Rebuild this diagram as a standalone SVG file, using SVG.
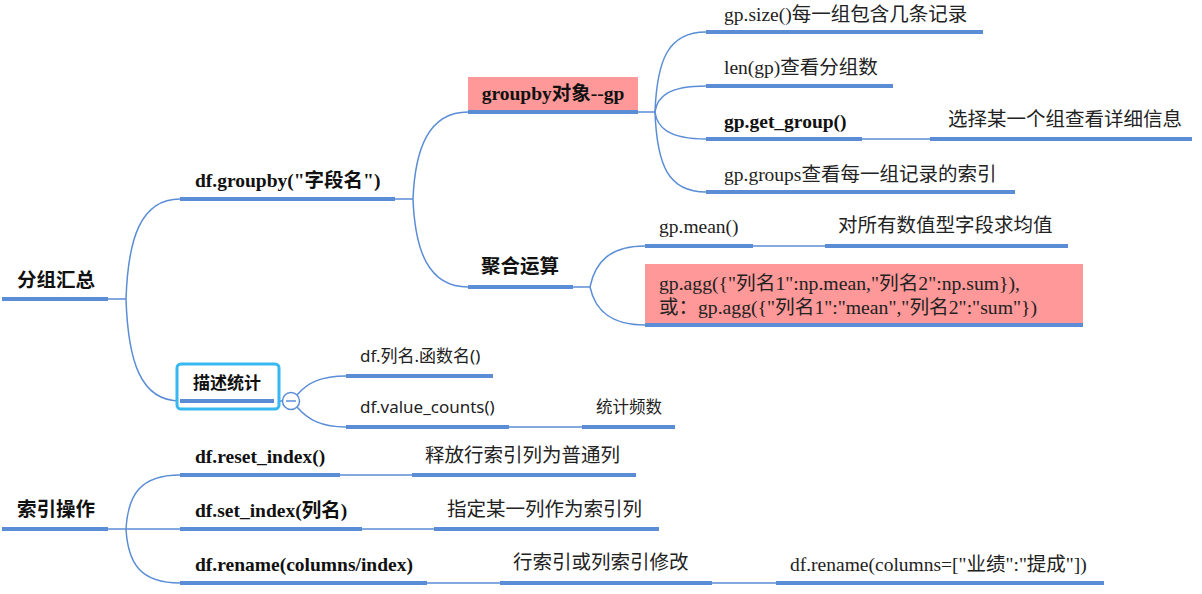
<svg xmlns="http://www.w3.org/2000/svg" width="1202" height="594" viewBox="0 0 1202 594">
<style>
.ul{stroke:#5a8dd6;stroke-width:4;fill:none}
.ln{stroke:#5a8dd6;stroke-width:1.5;fill:none}
.sf{font-family:"Liberation Serif","Noto Sans CJK SC",serif;font-size:19.5px;fill:#222}
.sfb{font-family:"Liberation Serif","Noto Sans CJK SC",serif;font-size:19.5px;font-weight:bold;fill:#111}
.ss{font-family:"Noto Sans","Noto Sans CJK SC",sans-serif;font-size:17px;fill:#222}
.root{font-family:"Noto Sans CJK SC",sans-serif;font-size:19.5px;font-weight:bold;fill:#111}
.pink{fill:#ff9898}
</style>
<rect width="1202" height="594" fill="#ffffff"/>
<g id="connectors">
<path class="ln" d="M108 299 H126"/>
<path class="ln" d="M126 299 C128 240 140 199 180 199"/>
<path class="ln" d="M126 299 C128 360 140 401 180 401"/>
<path class="ln" d="M395 199 H413"/>
<path class="ln" d="M413 199 C415 150 428 112 468 112"/>
<path class="ln" d="M413 199 C415 250 428 287 468 287"/>
<path class="ln" d="M638 112 H655"/>
<path class="ln" d="M655 112 C657 60 668 32 706 32"/>
<path class="ln" d="M655 112 C657 97 668 86 706 86"/>
<path class="ln" d="M655 112 C657 127 668 139 706 139"/>
<path class="ln" d="M655 112 C657 165 668 192 706 192"/>
<path class="ln" d="M862 139 H930"/>
<path class="ln" d="M573 287 H590"/>
<path class="ln" d="M590 287 C595 262 610 246 645 246"/>
<path class="ln" d="M590 287 C595 310 610 325 645 325"/>
<path class="ln" d="M753 246 H825"/>
<path class="ln" d="M274 401 H283"/>
<path class="ln" d="M297 395 C308 382 322 376 346 376"/>
<path class="ln" d="M297 407 C308 420 322 427 346 427"/>
<path class="ln" d="M509 427 H582"/>
<path class="ln" d="M108 529 H126"/>
<path class="ln" d="M126 529 C128 495 140 475 180 475"/>
<path class="ln" d="M126 529 H180"/>
<path class="ln" d="M126 529 C128 563 140 583 180 583"/>
<path class="ln" d="M340 475 H412"/>
<path class="ln" d="M362 529 H434"/>
<path class="ln" d="M427 583 H500"/>
<path class="ln" d="M712 583 H776"/>
</g>
<g id="n-fenzu">
<path class="ul" d="M2 299 H108"/>
<text class="root" x="17" y="287">分组汇总</text>
</g>
<g id="n-groupby">
<path class="ul" d="M180 199 H395"/>
<text class="sfb" x="195" y="187">df.groupby("字段名")</text>
</g>
<g id="n-gpobj">
<rect class="pink" x="468" y="77" width="170" height="34"/>
<path class="ul" d="M468 112 H638"/>
<text class="sfb" x="553" y="100" text-anchor="middle">groupby对象--gp</text>
</g>
<g id="n-size">
<path class="ul" d="M706 32 H983"/>
<text class="sf" x="724" y="21">gp.size()每一组包含几条记录</text>
</g>
<g id="n-len">
<path class="ul" d="M706 86 H893"/>
<text class="sf" x="724" y="74">len(gp)查看分组数</text>
</g>
<g id="n-getgroup">
<path class="ul" d="M706 139 H862"/>
<text class="sfb" x="724" y="128">gp.get_group()</text>
</g>
<g id="n-getgroup-desc">
<path class="ul" d="M930 139 H1192"/>
<text class="sf" x="948" y="126">选择某一个组查看详细信息</text>
</g>
<g id="n-groups">
<path class="ul" d="M706 192 H1015"/>
<text class="sf" x="724" y="181">gp.groups查看每一组记录的索引</text>
</g>
<g id="n-agg">
<path class="ul" d="M468 287 H573"/>
<text class="root" x="481" y="273">聚合运算</text>
</g>
<g id="n-mean">
<path class="ul" d="M645 246 H753"/>
<text class="sf" x="659" y="233">gp.mean()</text>
</g>
<g id="n-mean-desc">
<path class="ul" d="M825 246 H1068"/>
<text class="sf" x="838" y="232">对所有数值型字段求均值</text>
</g>
<g id="n-aggfunc">
<rect class="pink" x="645" y="264" width="438" height="59"/>
<path class="ul" d="M645 325 H1083"/>
<text class="sf" x="659" y="290" textLength="361" lengthAdjust="spacingAndGlyphs">gp.agg({"列名1":np.mean,"列名2":np.sum}),</text>
<text class="sf" x="659" y="314">或：</text>
<text class="sf" x="698" y="314" textLength="339" lengthAdjust="spacingAndGlyphs">gp.agg({"列名1":"mean","列名2":"sum"})</text>
</g>
<g id="n-describe">
<rect x="177" y="364" width="102" height="45" rx="4" fill="#fff" stroke="#37b8f2" stroke-width="3"/>
<path class="ul" d="M180 401 H274"/>
<text class="root" x="193" y="389" style="font-size:17px">描述统计</text>
<circle cx="291" cy="401" r="8.5" fill="#fff" stroke="#5a8dd6" stroke-width="1.5"/>
<path d="M286 401 H296" stroke="#5a8dd6" stroke-width="1.5"/>
</g>
<g id="n-colfunc">
<path class="ul" d="M346 376 H493"/>
<text class="ss" x="360" y="362">df.列名.函数名()</text>
</g>
<g id="n-valuecounts">
<path class="ul" d="M346 427 H509"/>
<text class="ss" x="360" y="413">df.value_counts()</text>
</g>
<g id="n-freq">
<path class="ul" d="M582 427 H675"/>
<text class="ss" x="596" y="413" style="font-size:16.5px">统计频数</text>
</g>
<g id="n-index">
<path class="ul" d="M2 529 H108"/>
<text class="root" x="17" y="516">索引操作</text>
</g>
<g id="n-reset">
<path class="ul" d="M180 475 H340"/>
<text class="sfb" x="195" y="463">df.reset_index()</text>
</g>
<g id="n-reset-desc">
<path class="ul" d="M412 475 H636"/>
<text class="sf" x="425" y="462">释放行索引列为普通列</text>
</g>
<g id="n-setindex">
<path class="ul" d="M180 529 H362"/>
<text class="sfb" x="195" y="517">df.set_index(列名)</text>
</g>
<g id="n-setindex-desc">
<path class="ul" d="M434 529 H659"/>
<text class="sf" x="447" y="516">指定某一列作为索引列</text>
</g>
<g id="n-rename">
<path class="ul" d="M180 583 H427"/>
<text class="sfb" x="195" y="571">df.rename(columns/index)</text>
</g>
<g id="n-rename-desc">
<path class="ul" d="M500 583 H712"/>
<text class="sf" x="513" y="569">行索引或列索引修改</text>
</g>
<g id="n-rename-ex">
<path class="ul" d="M776 583 H1104"/>
<text class="sf" x="790" y="571">df.rename(columns=["业绩":"提成"])</text>
</g>
</svg>
